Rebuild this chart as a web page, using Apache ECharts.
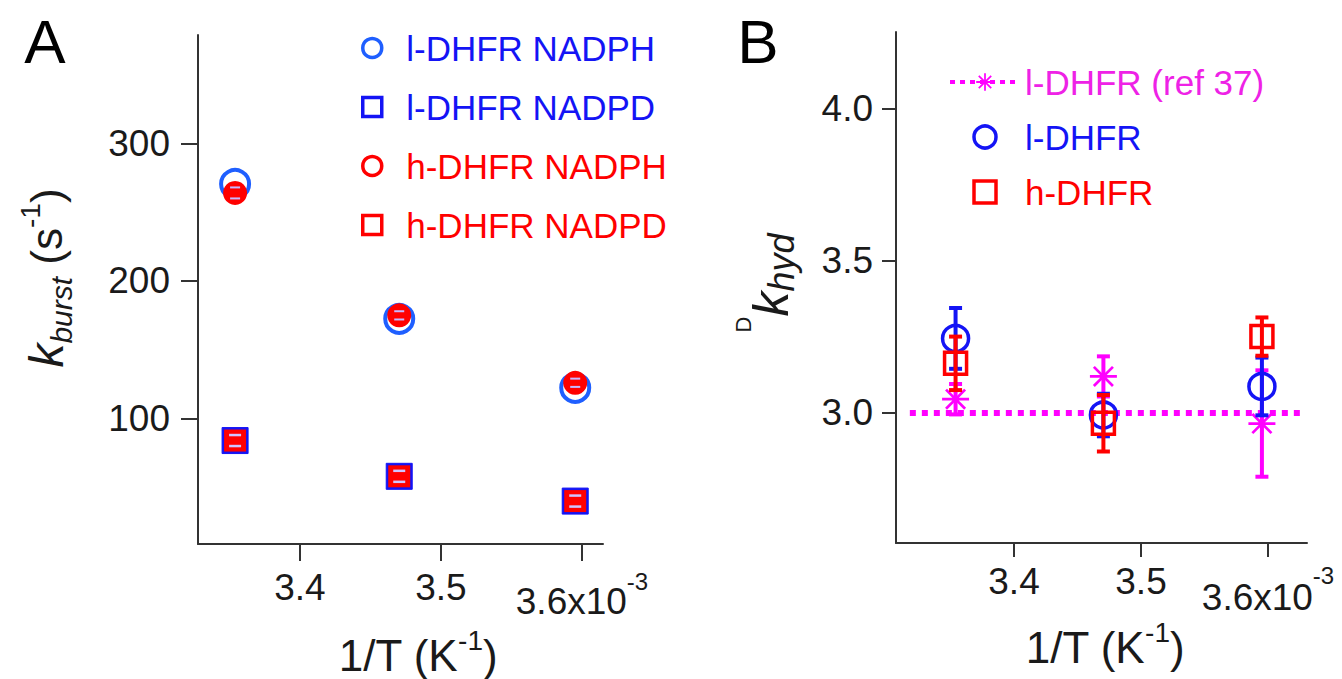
<!DOCTYPE html>
<html><head><meta charset="utf-8">
<script src="https://cdn.jsdelivr.net/npm/echarts@6/dist/echarts.min.js"></script>
<style>html,body{margin:0;padding:0;background:#fff}#c{width:1342px;height:679px}</style>
</head><body><div id="c"></div>
<script>
// ---------- data ----------
// Panel A: burst rates vs 1/T (x10^-3 K^-1)
const invT = [3.354, 3.4704, 3.5952];
const lNADPH = [270.5, 172.5, 122.3];
const lNADPH_err = [4, 3, 3];
const lNADPD = [84, 58, 40];
const lNADPD_err = [4, 4, 4];
const hNADPH = [264, 175, 126];
const hNADPH_err = [4, 3, 3];
const hNADPD = [84, 58, 40];
const hNADPD_err = [4, 4, 4];
const xTicksA = [3.4, 3.5, 3.6];
const yTicksA = [100, 200, 300];
// Panel B: KIE on hydride transfer
const kieRef37 = [3.045, 3.12, 2.965];
const kieRef37_err = [0.05, 0.066, 0.175];
const kieL = [3.245, 2.993, 3.087];
const kieL_err = [0.10, 0.07, 0.095];
const kieH = [3.163, 2.966, 3.251];
const kieH_err = [0.088, 0.093, 0.063];
const fitX = [3.318, 3.628];
const fitY = [3.0, 3.0];
const xTicksB = [3.4, 3.5, 3.6];
const yTicksB = [3.0, 3.5, 4.0];

// ---------- styling ----------
const FONT = '"Liberation Sans", Arial, Helvetica, sans-serif';
const BLUE = '#1414f5', BLUE2 = '#1f5fff', RED = '#ff0000', MAG = '#ff00ff', MAGT = '#ee22e6';
const AX = '#333333';
const STAR = 'path://M45 0L55 0L55 100L45 100Z M0 45L100 45L100 55L0 55Z M18.18 11.1L88.9 81.82L81.82 88.9L11.1 18.18Z M88.9 18.18L18.18 88.9L11.1 81.82L81.82 11.1Z';
const SQ = 'path://M0 0L10 0L10 10L0 10Z';

function pts(xs, ys) { return xs.map((x, i) => [x, ys[i]]); }
function errSeries(name, gi, xs, ys, es, color, lw, capW, z, stemColor) {
  return {
    type: 'custom', name: name, xAxisIndex: gi, yAxisIndex: gi, z: z, silent: true,
    data: xs.map((x, i) => [x, ys[i] - es[i], ys[i] + es[i]]),
    renderItem: function (params, api) {
      const lo = api.coord([api.value(0), api.value(1)]);
      const hi = api.coord([api.value(0), api.value(2)]);
      const st = { stroke: color, lineWidth: lw };
      const ch = [
        { type: 'line', shape: { x1: lo[0] - capW / 2, y1: lo[1], x2: lo[0] + capW / 2, y2: lo[1] }, style: st },
        { type: 'line', shape: { x1: hi[0] - capW / 2, y1: hi[1], x2: hi[0] + capW / 2, y2: hi[1] }, style: st }
      ];
      if (stemColor !== null) {
        ch.unshift({ type: 'line', shape: { x1: lo[0], y1: lo[1], x2: hi[0], y2: hi[1] }, style: { stroke: stemColor || color, lineWidth: lw } });
      }
      return { type: 'group', children: ch };
    }
  };
}

function xAxisCfg(gi, min, max, ticks, tickLen, margin, bLH) {
  return {
    type: 'value', gridIndex: gi, min: min, max: max,
    axisLine: { show: true, onZero: false, lineStyle: { color: AX, width: 2 } },
    axisTick: { show: true, length: tickLen, customValues: ticks, lineStyle: { color: AX, width: 2 } },
    splitLine: { show: false },
    axisLabel: {
      customValues: ticks, margin: margin, color: '#1a1a1a', fontSize: 37, fontFamily: FONT,
      formatter: v => Math.abs(v - 3.6) < 1e-6 ? '{b|3.6x10}{s|-3}' : v.toFixed(1),
      rich: {
        b: { fontSize: 37, fontFamily: FONT, color: '#1a1a1a', lineHeight: bLH, verticalAlign: 'bottom' },
        s: { fontSize: 24, fontFamily: FONT, color: '#1a1a1a', lineHeight: 24, verticalAlign: 'top' }
      }
    }
  };
}
function yAxisCfg(gi, min, max, ticks, tickLen, margin, fmt) {
  return {
    type: 'value', gridIndex: gi, min: min, max: max,
    axisLine: { show: true, onZero: false, lineStyle: { color: AX, width: 2 } },
    axisTick: { show: true, length: tickLen, customValues: ticks, lineStyle: { color: AX, width: 2 } },
    splitLine: { show: false },
    axisLabel: { customValues: ticks, margin: margin, color: '#1a1a1a', fontSize: 37, fontFamily: FONT, formatter: fmt }
  };
}

const chart = echarts.init(document.getElementById('c'), null, { renderer: 'svg' });
chart.setOption({
  animation: false,
  backgroundColor: '#ffffff',
  grid: [
    { left: 198, top: 35, width: 405, height: 509 },
    { left: 896, top: 32, width: 411, height: 511 }
  ],
  xAxis: [
    xAxisCfg(0, 3.3277, 3.6149, xTicksA, 17, 25, 51),
    xAxisCfg(1, 3.3071, 3.6307, xTicksB, 14, 20, 53)
  ],
  yAxis: [
    yAxisCfg(0, 8.8, 378.8, yTicksA, 17, 28, v => String(Math.round(v))),
    yAxisCfg(1, 2.572, 4.253, yTicksB, 14, 23, v => v.toFixed(1))
  ],
  legend: [
    {
      orient: 'vertical', left: 361, top: 28, padding: 0, itemGap: 19,
      itemWidth: 58, itemHeight: 19, selectedMode: false,
      textStyle: { fontSize: 35, fontFamily: FONT, lineHeight: 40 },
      data: [
        { name: 'l-DHFR NADPH', icon: 'circle', itemStyle: { color: 'rgba(0,0,0,0)', borderColor: BLUE2, borderWidth: 3.5, opacity: 1 }, textStyle: { color: BLUE } },
        { name: 'l-DHFR NADPD', icon: SQ, itemStyle: { color: 'rgba(0,0,0,0)', borderColor: BLUE, borderWidth: 3.5, opacity: 1 }, textStyle: { color: BLUE } },
        { name: 'h-DHFR NADPH', icon: 'circle', itemStyle: { color: 'rgba(0,0,0,0)', borderColor: RED, borderWidth: 3.5, opacity: 1 }, textStyle: { color: RED } },
        { name: 'h-DHFR NADPD', icon: SQ, itemStyle: { color: 'rgba(0,0,0,0)', borderColor: RED, borderWidth: 3.5, opacity: 1 }, textStyle: { color: RED } }
      ]
    },
    {
      orient: 'vertical', left: 948, top: 62, padding: 0, itemGap: 15,
      itemWidth: 70, itemHeight: 22, selectedMode: false,
      textStyle: { fontSize: 35, fontFamily: FONT, lineHeight: 40 },
      data: [
        { name: 'l-DHFR (ref 37)', itemStyle: { color: MAG, opacity: 1 }, lineStyle: { color: MAG, width: 4, type: [5, 5] }, textStyle: { color: MAGT } },
        { name: 'l-DHFR', icon: 'circle', itemStyle: { color: 'rgba(0,0,0,0)', borderColor: BLUE, borderWidth: 3.5, opacity: 1 }, textStyle: { color: BLUE } },
        { name: 'h-DHFR', icon: SQ, itemStyle: { color: 'rgba(0,0,0,0)', borderColor: RED, borderWidth: 3.5, opacity: 1 }, textStyle: { color: RED } }
      ]
    }
  ],
  series: [
    // ---- panel A ----
    { type: 'scatter', name: 'l-DHFR NADPH', xAxisIndex: 0, yAxisIndex: 0, z: 2, symbol: 'circle', symbolSize: 28,
      itemStyle: { color: 'rgba(0,0,0,0)', borderColor: BLUE2, borderWidth: 4, opacity: 1 }, data: pts(invT, lNADPH) },
    { type: 'scatter', name: 'l-DHFR NADPD', xAxisIndex: 0, yAxisIndex: 0, z: 2, symbol: 'rect', symbolSize: 26,
      itemStyle: { color: BLUE, borderColor: BLUE, borderWidth: 1, opacity: 1 }, data: pts(invT, lNADPD) },
    { type: 'scatter', name: 'h-DHFR NADPH', xAxisIndex: 0, yAxisIndex: 0, z: 3, symbol: 'circle', symbolSize: 24,
      itemStyle: { color: RED, borderColor: RED, borderWidth: 0, opacity: 1 }, data: pts(invT, hNADPH) },
    { type: 'scatter', name: 'h-DHFR NADPD', xAxisIndex: 0, yAxisIndex: 0, z: 3, symbol: 'rect', symbolSize: 22,
      itemStyle: { color: RED, borderColor: RED, borderWidth: 0, opacity: 1 }, data: pts(invT, hNADPD) },
    errSeries('h-DHFR NADPH', 0, invT, hNADPH, hNADPH_err, '#c8b8ff', 2, 10, 4, null),
    errSeries('h-DHFR NADPD', 0, invT, hNADPD, hNADPD_err, '#d0c4ff', 2.5, 12, 4, null),
    // ---- panel B ----
    { type: 'line', name: 'l-DHFR (ref 37)', xAxisIndex: 1, yAxisIndex: 1, z: 1, symbol: STAR, showSymbol: false,
      itemStyle: { color: MAG }, lineStyle: { color: MAG, width: 6, type: [6, 6], cap: 'butt' }, data: pts(fitX, fitY) },
    errSeries('l-DHFR (ref 37)', 1, invT, kieRef37, kieRef37_err, MAG, 4, 13, 2),
    { type: 'scatter', name: 'l-DHFR (ref 37)', xAxisIndex: 1, yAxisIndex: 1, z: 3, symbol: STAR, symbolSize: 27,
      itemStyle: { color: MAG, opacity: 1 }, data: pts(invT, kieRef37) },
    errSeries('l-DHFR', 1, invT, kieL, kieL_err, BLUE, 4, 13, 4),
    { type: 'scatter', name: 'l-DHFR', xAxisIndex: 1, yAxisIndex: 1, z: 5, symbol: 'circle', symbolSize: 26,
      itemStyle: { color: 'rgba(0,0,0,0)', borderColor: BLUE, borderWidth: 3.5, opacity: 1 }, data: pts(invT, kieL) },
    errSeries('h-DHFR', 1, invT, kieH, kieH_err, RED, 4, 13, 6),
    { type: 'scatter', name: 'h-DHFR', xAxisIndex: 1, yAxisIndex: 1, z: 7, symbol: 'rect', symbolSize: 22,
      itemStyle: { color: 'rgba(0,0,0,0)', borderColor: RED, borderWidth: 3.5, opacity: 1 }, data: pts(invT, kieH) }
  ],
  graphic: [
    { type: 'text', x: 45, y: 41, style: { text: 'A', font: '62px ' + FONT, fill: '#000', align: 'center', verticalAlign: 'middle' } },
    { type: 'text', x: 758, y: 41, style: { text: 'B', font: '62px ' + FONT, fill: '#000', align: 'center', verticalAlign: 'middle' } },
    { type: 'text', x: 418, y: 651.5, style: {
        text: '{n|1/T (K}{s|-1}{n|)}', align: 'center', verticalAlign: 'middle', fill: '#1a1a1a',
        rich: { n: { fontSize: 44, fontFamily: FONT, lineHeight: 51, fill: '#1a1a1a', verticalAlign: 'bottom' },
                s: { fontSize: 28, fontFamily: FONT, lineHeight: 28, fill: '#1a1a1a', verticalAlign: 'top' } } } },
    { type: 'text', x: 1105, y: 643.5, style: {
        text: '{n|1/T (K}{s|-1}{n|)}', align: 'center', verticalAlign: 'middle', fill: '#1a1a1a',
        rich: { n: { fontSize: 44, fontFamily: FONT, lineHeight: 51, fill: '#1a1a1a', verticalAlign: 'bottom' },
                s: { fontSize: 28, fontFamily: FONT, lineHeight: 28, fill: '#1a1a1a', verticalAlign: 'top' } } } },
    { type: 'text', x: 46, y: 278, rotation: Math.PI / 2, style: {
        text: '{k|k}{sub|burst}{n| (s}{sup|-1}{n|)}', align: 'center', verticalAlign: 'middle', fill: '#1a1a1a',
        rich: { k: { fontSize: 48, fontStyle: 'italic', fontFamily: FONT, lineHeight: 60, fill: '#1a1a1a' },
                sub: { fontSize: 30, fontStyle: 'italic', fontFamily: FONT, lineHeight: 36, fill: '#1a1a1a', verticalAlign: 'bottom' },
                n: { fontSize: 44, fontFamily: FONT, lineHeight: 60, fill: '#1a1a1a' },
                sup: { fontSize: 28, fontFamily: FONT, lineHeight: 28, fill: '#1a1a1a', verticalAlign: 'top' } } } },
    { type: 'text', x: 765.75, y: 283, rotation: Math.PI / 2, style: {
        text: '{sup|D}{k|k}{sub|hyd}', align: 'center', verticalAlign: 'middle', fill: '#1a1a1a',
        rich: { sup: { fontSize: 22, fontFamily: FONT, lineHeight: 22, fill: '#1a1a1a', verticalAlign: 'top' },
                k: { fontSize: 50, fontStyle: 'italic', fontFamily: FONT, lineHeight: 67.5, padding: [0, 0, 4, 0], fill: '#1a1a1a', verticalAlign: 'bottom' },
                sub: { fontSize: 36, fontStyle: 'italic', fontFamily: FONT, lineHeight: 36, fill: '#1a1a1a', verticalAlign: 'bottom' } } } }
  ]
});
</script>
</body></html>
